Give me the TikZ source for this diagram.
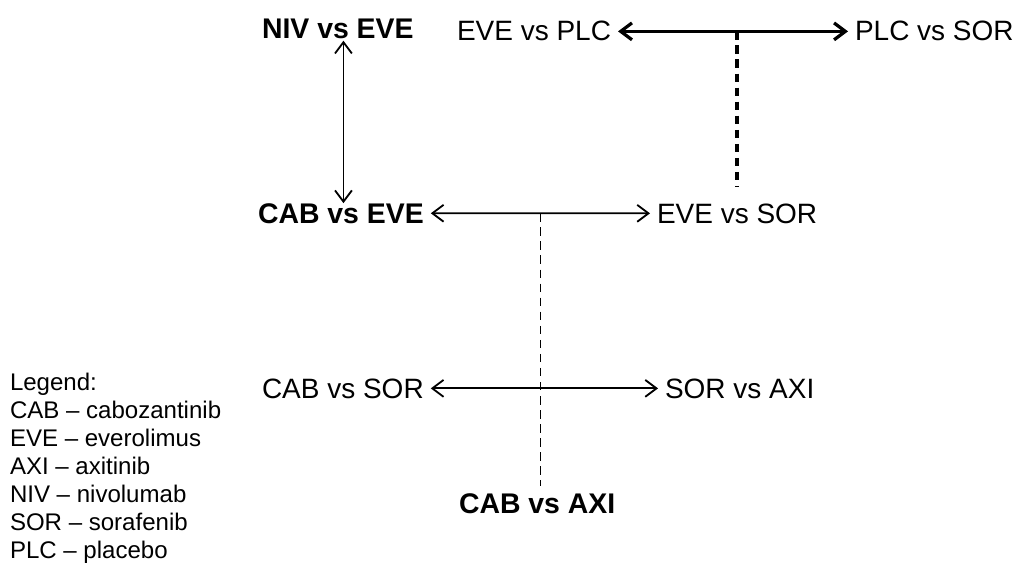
\documentclass[tikz,border=0pt]{standalone}
\usepackage{fontspec}
\setmainfont{Liberation Sans}
\usetikzlibrary{arrows.meta, positioning, calc}

\begin{document}
\begin{tikzpicture}[
    x=0.025cm, y=-0.025cm,
    every node/.style={inner sep=0pt, outer sep=5pt, anchor=base west},
    pair/.style={font=\fontsize{19.9}{22}\selectfont},
    focus/.style={font=\fontsize{20.2}{22}\selectfont\bfseries},
    legend/.style={font=\fontsize{17.1}{19.9}\selectfont, align=left,
                anchor=north west, outer sep=0pt},
    link/.style={{Straight Barb[length=8pt,width=12pt]}-{Straight Barb[length=8pt,width=12pt]},
                line width=1.3pt},
    strong/.style={link, line width=2.3pt},
    feed/.style={line width=1.1pt, dash pattern=on 6pt off 4pt},
    heavyfeed/.style={line width=2.3pt, dash pattern=on 6pt off 4pt}
]
\useasboundingbox (0,0) rectangle (1016,564);

\node[focus] (nivEve) at (255,39) {NIV vs EVE};
\node[pair] (evePlc) at (450,41) {EVE vs PLC};
\node[pair] (plcSor) at (848,41) {PLC vs SOR};

\node[focus] (cabEve) at (251,223) {CAB vs EVE};
\node[pair] (eveSor) at (650,223) {EVE vs SOR};

\node[pair] (cabSor) at (255,398) {CAB vs SOR};
\node[pair] (sorAxi) at (658,398) {SOR vs AXI};

\node[focus] (cabAxi) at (452,513) {CAB vs AXI};

\node[legend] (key) at (10,373) {Legend:\\
CAB -- cabozantinib\\
EVE -- everolimus\\
AXI -- axitinib\\
NIV -- nivolumab\\
SOR -- sorafenib\\
PLC -- placebo};

\coordinate (vTop) at ([xshift=4pt, yshift=4pt]nivEve.south);
\coordinate (vBot) at ([yshift=-5pt]cabEve.north);
\draw[link] (vTop) -- (vTop |- vBot);
\draw[strong] (evePlc) -- node[coordinate, midway] (topMid) {} (plcSor);
\draw[link] (cabEve) -- node[coordinate, midway] (midMid) {} (eveSor);
\draw[link] (cabSor) -- (sorAxi);

\path (topMid) ++(4,155) coordinate (topEnd);
\draw[heavyfeed] (topMid -| topEnd) -- (topEnd);
\draw[feed] (midMid) -- (midMid |- cabAxi.north);
\end{tikzpicture}
\end{document}
